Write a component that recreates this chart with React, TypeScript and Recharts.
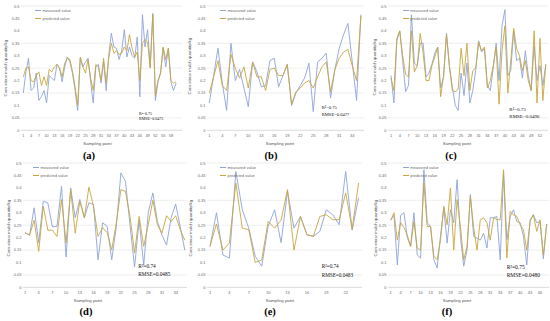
import React from 'react';
import { LineChart, Line, XAxis, YAxis, CartesianGrid } from 'recharts';

const Y_TICKS = [0, 0.05, 0.1, 0.15, 0.2, 0.25, 0.3, 0.35, 0.4, 0.45, 0.5];
const SERIES_NAMES = ['measured value', 'predicted value'];
const PANEL_LABELS = ['(a)', '(b)', '(c)', '(d)', '(e)', '(f)'];
const R2_TEXT = ['R²=0.75', 'R²=0.75', 'R²=0.73', 'R²=0.74', 'R²=0.74', 'R²=0.75'];
const RMSE_TEXT = ['RMSE=0.0475', 'RMSE=0.0477', 'RMSE=0.0496', 'RMSE=0.0485', 'RMSE=0.0483', 'RMSE=0.0480'];

const measuredA = [0.15, 0.235, 0.29, 0.16, 0.17, 0.23, 0.12, 0.135, 0.16, 0.11, 0.22, 0.21, 0.2, 0.265, 0.25, 0.195, 0.255, 0.295, 0.275, 0.23, 0.16, 0.08, 0.29, 0.255, 0.275, 0.29, 0.195, 0.11, 0.255, 0.265, 0.19, 0.275, 0.16, 0.305, 0.39, 0.335, 0.33, 0.285, 0.32, 0.405, 0.295, 0.335, 0.3, 0.29, 0.375, 0.135, 0.465, 0.335, 0.405, 0.255, 0.47, 0.12, 0.195, 0.23, 0.33, 0.255, 0.33, 0.195, 0.16, 0.19];
const predictedA = [0.215, 0.25, 0.255, 0.2, 0.195, 0.22, 0.235, 0.18, 0.215, 0.18, 0.245, 0.235, 0.255, 0.265, 0.25, 0.215, 0.27, 0.29, 0.285, 0.235, 0.175, 0.1, 0.295, 0.255, 0.23, 0.285, 0.21, 0.16, 0.265, 0.255, 0.2, 0.29, 0.19, 0.29, 0.35, 0.31, 0.32, 0.305, 0.31, 0.335, 0.32, 0.385, 0.33, 0.295, 0.315, 0.2, 0.35, 0.365, 0.355, 0.25, 0.465, 0.14, 0.2, 0.23, 0.335, 0.285, 0.33, 0.2, 0.19, 0.195];

const measuredB = [0.11, 0.22, 0.33, 0.19, 0.08, 0.35, 0.2, 0.245, 0.17, 0.095, 0.275, 0.235, 0.175, 0.18, 0.28, 0.29, 0.175, 0.22, 0.265, 0.1, 0.15, 0.18, 0.21, 0.27, 0.075, 0.275, 0.29, 0.31, 0.13, 0.245, 0.33, 0.385, 0.43, 0.275, 0.12, 0.465];
const predictedB = [0.15, 0.215, 0.28, 0.18, 0.16, 0.305, 0.25, 0.21, 0.255, 0.17, 0.275, 0.215, 0.215, 0.16, 0.245, 0.25, 0.22, 0.22, 0.265, 0.105, 0.155, 0.17, 0.19, 0.2, 0.17, 0.215, 0.255, 0.275, 0.155, 0.245, 0.29, 0.315, 0.325, 0.26, 0.2, 0.46];

const measuredC = [0.22, 0.11, 0.36, 0.4, 0.28, 0.155, 0.18, 0.465, 0.27, 0.26, 0.35, 0.35, 0.215, 0.23, 0.265, 0.31, 0.335, 0.17, 0.215, 0.39, 0.255, 0.175, 0.1, 0.08, 0.23, 0.14, 0.27, 0.11, 0.16, 0.24, 0.36, 0.315, 0.33, 0.18, 0.16, 0.25, 0.35, 0.2, 0.42, 0.485, 0.22, 0.24, 0.4, 0.28, 0.29, 0.21, 0.32, 0.22, 0.16, 0.34, 0.2, 0.26, 0.18, 0.265];
const predictedC = [0.21, 0.16, 0.37, 0.4, 0.3, 0.225, 0.215, 0.4, 0.235, 0.26, 0.39, 0.31, 0.2, 0.2, 0.26, 0.295, 0.335, 0.135, 0.22, 0.385, 0.26, 0.16, 0.155, 0.165, 0.33, 0.22, 0.35, 0.16, 0.24, 0.25, 0.355, 0.32, 0.335, 0.17, 0.2, 0.26, 0.335, 0.105, 0.32, 0.42, 0.15, 0.28, 0.41, 0.33, 0.3, 0.24, 0.28, 0.2, 0.16, 0.4, 0.11, 0.37, 0.12, 0.265];

const measuredD = [0.22, 0.21, 0.32, 0.18, 0.346, 0.34, 0.243, 0.245, 0.406, 0.122, 0.4, 0.28, 0.353, 0.28, 0.34, 0.333, 0.111, 0.26, 0.245, 0.111, 0.245, 0.46, 0.426, 0.252, 0.082, 0.27, 0.09, 0.3, 0.38, 0.265, 0.21, 0.17, 0.28, 0.335, 0.245, 0.15];
const predictedD = [0.22, 0.21, 0.27, 0.145, 0.326, 0.23, 0.23, 0.205, 0.353, 0.178, 0.393, 0.218, 0.346, 0.28, 0.403, 0.326, 0.205, 0.24, 0.22, 0.151, 0.26, 0.393, 0.386, 0.285, 0.138, 0.285, 0.165, 0.252, 0.35, 0.252, 0.218, 0.288, 0.265, 0.288, 0.232, 0.19];

const measuredE = [0.165, 0.3, 0.13, 0.118, 0.466, 0.312, 0.238, 0.125, 0.085, 0.245, 0.312, 0.18, 0.386, 0.238, 0.285, 0.212, 0.205, 0.225, 0.312, 0.292, 0.252, 0.466, 0.23, 0.36];
const predictedE = [0.165, 0.255, 0.15, 0.178, 0.42, 0.238, 0.232, 0.1, 0.11, 0.265, 0.238, 0.27, 0.393, 0.15, 0.285, 0.212, 0.205, 0.285, 0.292, 0.272, 0.272, 0.38, 0.235, 0.42];

const measuredF = [0.27, 0.29, 0.09, 0.29, 0.3, 0.2, 0.165, 0.3, 0.13, 0.118, 0.473, 0.26, 0.245, 0.111, 0.078, 0.205, 0.32, 0.178, 0.312, 0.26, 0.433, 0.205, 0.085, 0.15, 0.373, 0.205, 0.198, 0.19, 0.218, 0.158, 0.28, 0.28, 0.285, 0.111, 0.46, 0.19, 0.285, 0.312, 0.265, 0.26, 0.205, 0.09, 0.272, 0.292, 0.26, 0.265, 0.115, 0.255];
const predictedF = [0.27, 0.3, 0.19, 0.26, 0.24, 0.21, 0.165, 0.265, 0.158, 0.15, 0.42, 0.245, 0.245, 0.125, 0.111, 0.19, 0.326, 0.252, 0.4, 0.15, 0.353, 0.245, 0.111, 0.165, 0.366, 0.24, 0.15, 0.272, 0.28, 0.26, 0.19, 0.28, 0.272, 0.272, 0.473, 0.118, 0.305, 0.292, 0.285, 0.252, 0.232, 0.15, 0.265, 0.292, 0.225, 0.272, 0.13, 0.255];

const BLUE = '#8fa3d9';
const GOLD = '#c6a63f';
const FONT = "'Liberation Sans', Arial, sans-serif";
const SERIF = "'Liberation Serif', 'Times New Roman', serif";

type Geo = {
  L: number; R: number; X1: number; Xn: number; yTop: number; yBot: number;
  legX: number; annX: number; annY1: number; annY2: number; annFs: number;
  xtX: number; xtY: number; plX: number; plY: number; ytX: number; ytY: number;
};

const GEOS: Geo[] = [
  { L: 21, R: 182, X1: 23.3, Xn: 176.1, yTop: 6, yBot: 130.3, legX: 35, annX: 139, annY1: 114, annY2: 119.5, annFs: 4, xtX: 97.5, xtY: 144.3, plX: 89, plY: 156.5, ytX: 6, ytY: 68 },
  { L: 207, R: 364, X1: 209.3, Xn: 360.9, yTop: 6, yBot: 130.3, legX: 220, annX: 321.7, annY1: 109, annY2: 115.5, annFs: 4.6, xtX: 280, xtY: 144.8, plX: 271, plY: 156.5, ytX: 190, ytY: 66 },
  { L: 388, R: 548, X1: 391, Xn: 545.8, yTop: 6, yBot: 130.3, legX: 402.7, annX: 509.3, annY1: 110, annY2: 116.7, annFs: 5, xtX: 457, xtY: 144.8, plX: 451, plY: 156.5, ytX: 375, ytY: 67 },
  { L: 23, R: 187, X1: 25, Xn: 184.8, yTop: 163.3, yBot: 287.7, legX: 33, annX: 138.3, annY1: 267, annY2: 275, annFs: 5.3, xtX: 88, xtY: 301, plX: 86, plY: 312.7, ytX: 9, ytY: 228 },
  { L: 207, R: 362, X1: 210, Xn: 358.6, yTop: 163.3, yBot: 287.7, legX: 220, annX: 321.7, annY1: 267.3, annY2: 275.7, annFs: 5.2, xtX: 280, xtY: 301, plX: 270, plY: 312.7, ytX: 191, ytY: 228 },
  { L: 388, R: 549, X1: 390.7, Xn: 546.7, yTop: 163.3, yBot: 287.7, legX: 402.7, annX: 506.7, annY1: 268.3, annY2: 276, annFs: 5.5, xtX: 457, xtY: 301, plX: 447, plY: 312.7, ytX: 376, ytY: 228 },
];

const DATASETS = [
  [measuredA, predictedA],
  [measuredB, predictedB],
  [measuredC, predictedC],
  [measuredD, predictedD],
  [measuredE, predictedE],
  [measuredF, predictedF],
];

function Panel({ idx }: { idx: number }) {
  const g = GEOS[idx];
  const [meas, pred] = DATASETS[idx];
  const rows = meas.map((m, i) => ({ x: String(i + 1), m, p: pred[i] }));
  const yw = 20;
  const chartLeft = g.L - yw;
  const width = g.R - chartLeft + 1;
  const height = g.yBot - g.yTop + 2 + 10;
  const tickStyle = { fontSize: 4, fill: '#6b6b6b', fontFamily: FONT };
  return (
    <>
      <div style={{ position: 'absolute', left: chartLeft, top: g.yTop - 2 }}>
        <LineChart width={width} height={height} data={rows} margin={{ top: 2, right: 1, bottom: 0, left: 0 }}>
          <CartesianGrid vertical={false} stroke="#e3e3e3" strokeWidth={0.6} />
          <XAxis
            dataKey="x"
            interval={2}
            tickLine={false}
            tickSize={0}
            tickMargin={4}
            height={10}
            axisLine={{ stroke: '#d0d0d0', strokeWidth: 0.6 }}
            padding={{ left: g.X1 - g.L, right: g.R - g.Xn }}
            tick={tickStyle}
          />
          <YAxis
            domain={[0, 0.5]}
            ticks={Y_TICKS}
            width={yw}
            axisLine={false}
            tickLine={false}
            tickSize={0}
            tickMargin={1.5}
            tick={tickStyle}
            tickFormatter={(v: number) => String(v)}
          />
          <Line dataKey="m" name={SERIES_NAMES[0]} stroke={BLUE} strokeWidth={0.9} dot={false} isAnimationActive={false} />
          <Line dataKey="p" name={SERIES_NAMES[1]} stroke={GOLD} strokeWidth={0.9} dot={false} isAnimationActive={false} />
        </LineChart>
      </div>
      {SERIES_NAMES.map((n, k) => (
        <div key={n} style={{ position: 'absolute', left: g.legX, top: g.yTop + 4.5 + k * 8 - 3, height: 6, display: 'flex', alignItems: 'center', fontFamily: FONT, fontSize: 4, color: '#6b6b6b', whiteSpace: 'nowrap' }}>
          <div style={{ width: 6, height: 0.9, background: k === 0 ? BLUE : GOLD, marginRight: 1.5 }} />
          <span>{n}</span>
        </div>
      ))}
      <div style={{ position: 'absolute', left: g.annX, top: g.annY1 - g.annFs * 0.6, fontFamily: SERIF, fontSize: g.annFs, color: '#111', whiteSpace: 'nowrap', lineHeight: 1 }}>{R2_TEXT[idx]}</div>
      <div style={{ position: 'absolute', left: g.annX, top: g.annY2 - g.annFs * 0.6, fontFamily: SERIF, fontSize: g.annFs, color: '#111', whiteSpace: 'nowrap', lineHeight: 1 }}>{RMSE_TEXT[idx]}</div>
      <div style={{ position: 'absolute', left: g.xtX - 30, width: 60, top: g.xtY - 2.5, textAlign: 'center', fontFamily: FONT, fontSize: 4.3, color: '#555', lineHeight: 1, whiteSpace: 'nowrap' }}>Sampling point</div>
      <div style={{ position: 'absolute', left: g.plX - 20, width: 40, top: g.plY - 6, textAlign: 'center', fontFamily: SERIF, fontWeight: 'bold', fontSize: 10.5, color: '#000', lineHeight: 1, whiteSpace: 'nowrap' }}>{PANEL_LABELS[idx]}</div>
      <div style={{ position: 'absolute', left: g.ytX - 40, width: 80, top: g.ytY - 2.5, textAlign: 'center', transform: 'rotate(-90deg)', fontFamily: FONT, fontSize: 4.4, color: '#555', lineHeight: 1, whiteSpace: 'nowrap' }}>Corn straw mulch quantity/kg</div>
    </>
  );
}

export default function App() {
  return (
    <div style={{ position: 'absolute', left: 0, top: 0, width: 550, height: 321, background: '#fff', overflow: 'hidden' }}>
      {[0, 1, 2, 3, 4, 5].map((i) => (
        <Panel key={i} idx={i} />
      ))}
    </div>
  );
}
